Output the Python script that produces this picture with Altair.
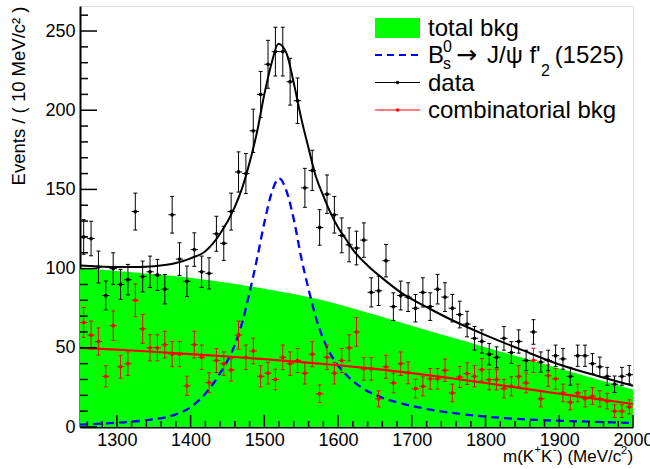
import altair as alt
import pandas as pd
import numpy as np

# ---------------- data ----------------
bin_centers = list(range(1255, 2000, 10))  # 75 bins of 10 MeV

data_counts = [120, 119, 101, 83, 100, 90, 93, 136, 95, 98,
               96, 87, 134, 106, 92, 112, 98, 97, 122, 116,
               136, 161, 160, 187, 210, 229, 237, 237, 218, 206,
               151, 162, 126, 147, 134, 121, 115, 113, 118, 85,
               86, 105, 76, 83, 82, 75, 85, 76, 87, 82,
               75, 71, 65, 56, 54, 46, 44, 56, 47, 54,
               42, 60, 41, 42, 45, 43, 32, 45, 45, 40,
               38, 32, 27, 32, 33]

comb_counts = [66, 58, 54, 32, 64, 38, 40, 80, 62, 50,
               50, 52, 46, 46, 26, 52, 44, 28, 42, 40,
               36, 58, 44, 48, 32, 34, 30, 44, 40, 42,
               34, 46, 21, 44, 34, 42, 50, 60, 36.7, 36.7,
               17.8, 38, 27.8, 40, 34.2, 24.2, 25.7, 30.4, 30.4, 35.8,
               21.5, 31.6, 33.7, 32, 36.2, 29.9, 29.9, 24.2, 25.7, 32,
               27.8, 42.1, 17.8, 32.4, 30.4, 21.5, 15.7, 21.5, 17.8, 19.5,
               17.8, 16.3, 10, 10, 12.7]

# total background (green)
bkg_mass = [1250, 1300, 1350, 1400, 1450, 1500, 1550, 1600, 1650, 1700,
            1750, 1800, 1850, 1900, 1950, 2000]
bkg_vals = [100, 98.5, 96.5, 94.3, 91, 87.3, 83, 77.5, 70.8, 63.9,
            57.1, 50.4, 43.7, 37, 30.3, 23.6]

# combinatorial background fit (red line)
comb_mass = [1250, 1300, 1350, 1400, 1450, 1500, 1550, 1600, 1650, 1700,
             1750, 1800, 1850, 1900, 1950, 2000]
comb_vals = [50, 48.8, 47.5, 46, 44.5, 42.8, 41, 39, 36.7, 34,
             31, 27.8, 24.4, 21, 17.8, 14.5]

# signal B_s -> J/psi f2'(1525) (blue dashed)
sig_mass = [1250, 1300, 1340, 1380, 1400, 1420, 1440, 1460, 1470, 1480,
            1490, 1500, 1510, 1520, 1530, 1540, 1550, 1560, 1570, 1580,
            1595, 1612, 1630, 1657, 1685, 1725, 1790, 1860, 1930, 2000]
sig_vals = [1.5, 2.7, 4.3, 8, 12.5, 21, 34, 52, 66, 85,
            106, 129, 148, 157, 149, 131, 107, 87, 69, 55.5,
            42, 32.5, 25.5, 19, 15, 11, 7, 4.7, 3.5, 2.6]

# total fit (black line)
tot_mass = [1250, 1270, 1300, 1330, 1350, 1380, 1400, 1420, 1440, 1460,
            1470, 1480, 1490, 1500, 1510, 1519, 1530, 1540, 1550, 1560,
            1570, 1580, 1590, 1600, 1610, 1620, 1640, 1660, 1685, 1725,
            1750, 1800, 1850, 1900, 1950, 2000]
tot_vals = [102, 101.5, 101, 101, 101.5, 103.5, 106.5, 111, 122, 139,
            151, 167, 186, 210, 230, 242, 236, 217, 195, 176,
            158, 146, 135, 126, 119, 112, 102, 94, 85, 74.5,
            68.5, 58, 48.5, 39.5, 32.5, 26]

y_major = [0, 50, 100, 150, 200, 250]
y_minor = [v for v in range(10, 270, 10) if v % 50 != 0]
x_major = [1300, 1400, 1500, 1600, 1700, 1800, 1900, 2000]
x_minor = [v for v in range(1260, 2000, 20) if v % 100 != 0]

# ---------------- frames ----------------
W, H = 553, 421
FONT = "Liberation Sans"

def with_errors(m, n, err):
    df = pd.DataFrame({"m": m, "n": n})
    df["err"] = err
    df["lo"] = df["n"] - df["err"]
    df["hi"] = df["n"] + df["err"]
    df["ml"] = df["m"] - 5
    df["mh"] = df["m"] + 5
    df["cl"] = df["m"] - 2.7
    df["ch"] = df["m"] + 2.7
    return df

d = with_errors(bin_centers, data_counts, np.sqrt(np.array(data_counts, float)))
c = with_errors(bin_centers, comb_counts, np.sqrt(1.3 * np.array(comb_counts, float) + 3))

bkg = pd.DataFrame({"m": bkg_mass, "v": bkg_vals})
comb = pd.DataFrame({"m": comb_mass, "v": comb_vals})
sig = pd.DataFrame({"m": sig_mass, "v": sig_vals})
tot = pd.DataFrame({"m": tot_mass, "v": tot_vals})
one = pd.DataFrame({"a": [0]})

xs = alt.Scale(domain=[1250, 2000], nice=False, zero=False)
ys = alt.Scale(domain=[0, 265.8], nice=False, zero=False)

x_axis = alt.Axis(values=x_major, ticks=False, grid=False, domain=True,
                  domainColor="black", domainWidth=2, labelFont=FONT,
                  labelFontSize=18, labelColor="black", labelPadding=4,
                  labelFlush=False, format="d", title="")
y_axis = alt.Axis(values=y_major, ticks=False, grid=False, domain=True,
                  domainColor="black", domainWidth=2, labelFont=FONT,
                  labelFontSize=18, labelColor="black", labelPadding=5,
                  format="d",
                  title="Events / ( 10 MeV/c² )", titleFont=FONT,
                  titleFontSize=18.5, titleFontWeight="normal",
                  titleColor="black", titleAngle=270, titleAlign="right",
                  titleBaseline="alphabetic", titleX=-56, titleY=0)

green = alt.Chart(bkg).mark_area(color="#00ff00", opacity=1,
                                 interpolate="monotone").encode(
    x=alt.X("m:Q", scale=xs, axis=x_axis),
    y=alt.Y("v:Q", scale=ys, axis=y_axis),
)

blue = alt.Chart(sig).mark_line(color="#0000ff", strokeWidth=2.3,
                                strokeDash=[8, 5], interpolate="monotone",
                                clip=True).encode(
    x=alt.X("m:Q", scale=xs), y=alt.Y("v:Q", scale=ys))

def points(df, color):
    v = alt.Chart(df).mark_rule(color=color, strokeWidth=1).encode(
        x=alt.X("m:Q", scale=xs), y=alt.Y("lo:Q", scale=ys), y2="hi:Q")
    ct = alt.Chart(df).mark_rule(color=color, strokeWidth=1).encode(
        x=alt.X("cl:Q", scale=xs), x2="ch:Q", y=alt.Y("hi:Q", scale=ys))
    cb = alt.Chart(df).mark_rule(color=color, strokeWidth=1).encode(
        x=alt.X("cl:Q", scale=xs), x2="ch:Q", y=alt.Y("lo:Q", scale=ys))
    h = alt.Chart(df).mark_rule(color=color, strokeWidth=1, clip=True).encode(
        x=alt.X("ml:Q", scale=xs), x2="mh:Q", y=alt.Y("n:Q", scale=ys))
    p = alt.Chart(df).mark_circle(color=color, size=14, opacity=1).encode(
        x=alt.X("m:Q", scale=xs), y=alt.Y("n:Q", scale=ys))
    return v + ct + cb + h + p

red_pts = points(c, "#ff0000")
blk_pts = points(d, "black")

red_line = alt.Chart(comb).mark_line(color="#ff0000", strokeWidth=2.2,
                                     interpolate="monotone").encode(
    x=alt.X("m:Q", scale=xs), y=alt.Y("v:Q", scale=ys))
blk_line = alt.Chart(tot).mark_line(color="black", strokeWidth=2,
                                    interpolate="monotone").encode(
    x=alt.X("m:Q", scale=xs), y=alt.Y("v:Q", scale=ys))

# inward ticks (ROOT style)
ymaj = alt.Chart(pd.DataFrame({"v": y_major})).mark_rule(color="black", strokeWidth=1.5).encode(
    y=alt.Y("v:Q", scale=ys), x=alt.value(0), x2=alt.value(17))
ymin = alt.Chart(pd.DataFrame({"v": y_minor})).mark_rule(color="black", strokeWidth=1.5).encode(
    y=alt.Y("v:Q", scale=ys), x=alt.value(0), x2=alt.value(8))
xmaj = alt.Chart(pd.DataFrame({"v": x_major})).mark_rule(color="black", strokeWidth=1.5).encode(
    x=alt.X("v:Q", scale=xs), y=alt.value(H), y2=alt.value(H - 12))
xmin = alt.Chart(pd.DataFrame({"v": x_minor})).mark_rule(color="black", strokeWidth=1.5).encode(
    x=alt.X("v:Q", scale=xs), y=alt.value(H), y2=alt.value(H - 6))

def txt(s, x, y, size=24, align="left", font=FONT):
    return alt.Chart(one).mark_text(align=align, baseline="alphabetic", font=font,
                                    fontSize=size, color="black").encode(
        x=alt.value(x), y=alt.value(y), text=alt.value(s))

# x-axis title with real super-scripts
x_title = (txt("m(K", 423, 456, size=17)
           + txt("+", 454.5, 447, size=11)
           + txt("K", 461, 456, size=17)
           + txt("-", 473, 447, size=11)
           + txt(") (MeV/c", 477, 456, size=17)
           + txt("2", 541, 448, size=11)
           + txt(")", 547.5, 456, size=17))

# legend
leg_box = alt.Chart(one).mark_rect(color="#00ff00").encode(
    x=alt.value(295), x2=alt.value(340), y=alt.value(12), y2=alt.value(32))
leg_blue = alt.Chart(one).mark_rule(color="#0000ff", strokeWidth=2,
                                    strokeDash=[7, 5]).encode(
    x=alt.value(295), x2=alt.value(340), y=alt.value(49))
leg_blk = alt.Chart(one).mark_rule(color="black", strokeWidth=1).encode(
    x=alt.value(295), x2=alt.value(340), y=alt.value(76.5))
leg_blk_pt = alt.Chart(one).mark_circle(color="black", size=12, opacity=1).encode(
    x=alt.value(317.5), y=alt.value(76.5))
leg_red = alt.Chart(one).mark_rule(color="#ff0000", strokeWidth=1).encode(
    x=alt.value(295), x2=alt.value(340), y=alt.value(104))
leg_red_pt = alt.Chart(one).mark_circle(color="#ff0000", size=12, opacity=1).encode(
    x=alt.value(317.5), y=alt.value(104))

legend = (leg_box + leg_blue + leg_blk + leg_blk_pt + leg_red + leg_red_pt
          + txt("total bkg", 348, 30)
          + txt("B", 348, 57)
          + txt("0", 363, 46, size=16)
          + txt("s", 363, 63, size=16)
          + txt("→", 376, 57, size=25, font="DejaVu Sans")
          + txt("J/ψ f'", 407, 57)
          + txt("2", 461, 70, size=16)
          + txt("(1525)", 544, 57, align="right")
          + txt("data", 348, 85)
          + txt("combinatorial bkg", 348, 112))

chart = alt.layer(
    green, blue, red_pts, red_line, blk_pts, blk_line,
    ymaj, ymin, xmaj, xmin, x_title, legend
).properties(
    width=W, height=H,
    autosize=alt.AutoSizeParams(type="none"),
    padding={"left": 80, "top": 6, "right": 17, "bottom": 42},
).configure_view(stroke="black", strokeWidth=1).configure(font=FONT, background="white")

chart.save("out.html", embed_options={"renderer": "svg", "actions": False})
